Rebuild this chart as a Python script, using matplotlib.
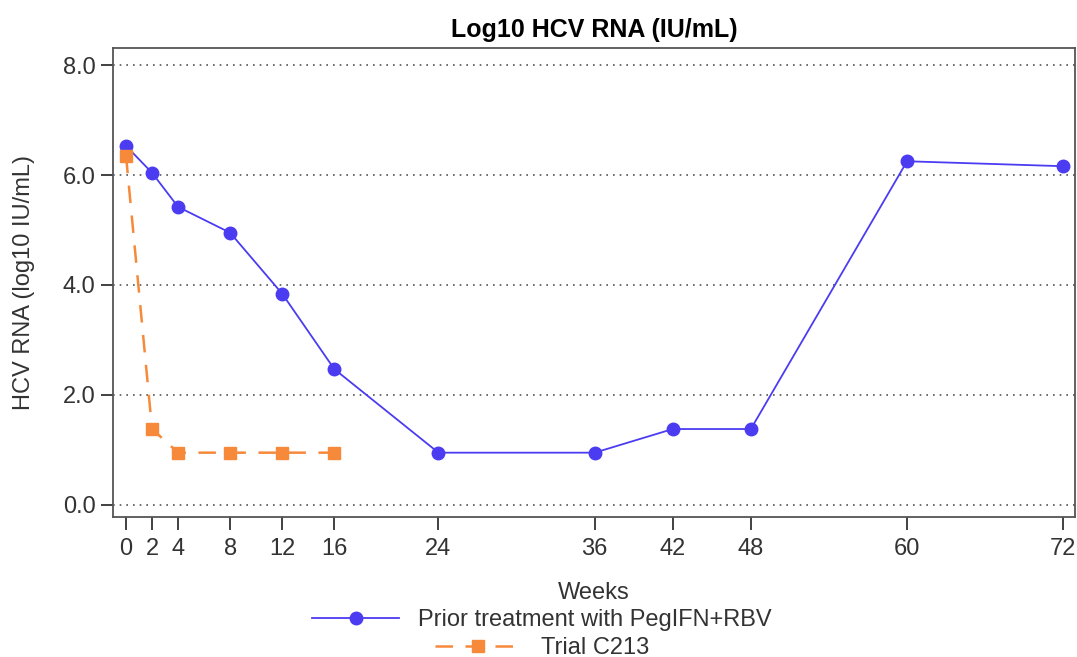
import matplotlib.pyplot as plt
import numpy as np

plt.rcParams['font.family'] = ['Liberation Sans', 'DejaVu Sans']

weeks_ticks = [0, 2, 4, 8, 12, 16, 24, 36, 42, 48, 60, 72]

prior_weeks = [0, 2, 4, 8, 12, 16, 24, 36, 42, 48, 60, 72]
prior_rna = [6.53, 6.04, 5.42, 4.95, 3.84, 2.47, 0.95, 0.95, 1.38, 1.38, 6.25, 6.16]

trial_weeks = [0, 2, 4, 8, 12, 16]
trial_rna = [6.35, 1.38, 0.95, 0.95, 0.95, 0.95]

y_ticks = [0, 2, 4, 6, 8]

fig = plt.figure(figsize=(10.77, 6.57), dpi=100)
ax = fig.add_axes([113 / 1077, 1 - 517 / 657, (1075 - 113) / 1077, (517 - 48) / 657])

l1, = ax.plot(prior_weeks, prior_rna, "-o", color="#4b3cf2", lw=1.3, ms=9,
              label="Prior treatment with PegIFN+RBV", zorder=3)
l2, = ax.plot(trial_weeks, trial_rna, "--s", color="#f7893b", lw=1.8, ms=9,
              dashes=(7, 5), label="Trial C213", zorder=3)

ax.set_xlim(-1, 72.9)
ax.set_ylim(-0.22, 8.31)
ax.set_xticks(weeks_ticks)
ax.set_yticks(y_ticks)
ax.set_yticklabels([f"{v:.1f}" for v in y_ticks])
ax.yaxis.grid(True, linestyle=(0, (1, 3)), color="#555555", lw=1.2)
ax.set_axisbelow(True)
ax.tick_params(axis="both", labelsize=17, length=9, width=1.3, colors="#333333")
ax.tick_params(axis="x", pad=6)
for s in ax.spines.values():
    s.set_color("#555555")
    s.set_linewidth(1.3)

ax.set_xlabel("Weeks", fontsize=17, labelpad=16, color="#333333")
ax.set_ylabel("HCV RNA (log10 IU/mL)", fontsize=17, labelpad=20, color="#333333")
ax.set_title("Log10 HCV RNA (IU/mL)", fontsize=18, fontweight="bold", pad=8)

# each legend row centred separately
for handle, yrow in ((l1, 620), (l2, 648)):
    leg = fig.legend(handles=[handle], loc="center", bbox_to_anchor=(542 / 1077, 1 - yrow / 657),
                     frameon=False, fontsize=17, handlelength=3.7, handletextpad=0.8,
                     borderpad=0, borderaxespad=0)
    for t in leg.get_texts():
        t.set_color("#333333")

fig.savefig("out.png", dpi=100)
